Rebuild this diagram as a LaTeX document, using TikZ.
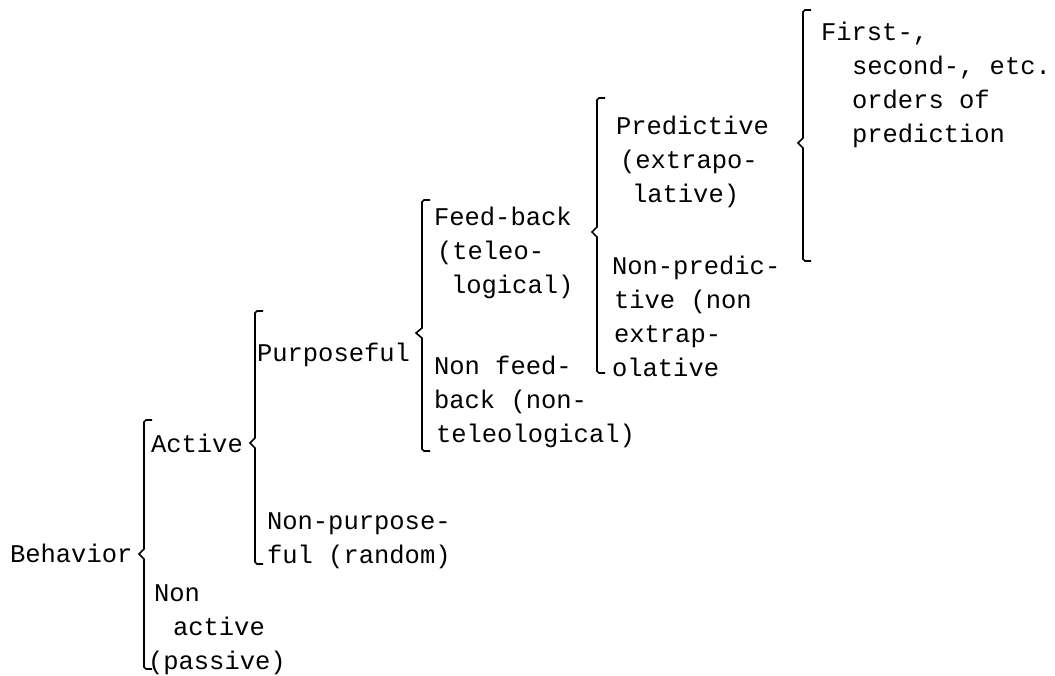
\documentclass[tikz,border=0pt]{standalone}
\usepackage{fontspec}
\newfontfamily\monofam{Liberation Mono}
\newcommand\mybrace[5]{% x, top, bottom, tip y, tip x
  \draw[brk] ({#1+8},#2) -- ({#1+2},#2) -- (#1,{#2+2}) -- (#1,{#4-5}) -- (#5,#4)
    -- (#1,{#4+5}) -- (#1,{#3-2}) -- ({#1+2},#3) -- ({#1+8},#3);}
\begin{document}
\begin{tikzpicture}[x=1pt,y=-1pt,
  lbl/.style={anchor=base west,inner sep=0pt,outer sep=0pt,
    font=\monofam\fontsize{25.5}{34}\selectfont},
  brk/.style={line width=1.6pt,line join=miter}]
\useasboundingbox (0,0) rectangle (1055,675);
% labels
\node[lbl] (behavior) at (10,562) {Behavior};
\node[lbl] (active) at (151,452) {Active};
\node[lbl] (nonactive) at (154,601) {\vtop{\hbox{Non}\hbox{\kern19pt active}\hbox{\kern-6pt (passive)}}};
\node[lbl] (purposeful) at (257,361) {Purposeful};
\node[lbl] (nonpurposeful) at (267,529) {\vtop{\hbox{Non-purpose-}\hbox{ful (random)}}};
\node[lbl] (feedback) at (434,225) {\vtop{\hbox{Feed-back}\hbox{\kern3pt (teleo-}\hbox{\kern17pt logical)}}};
\node[lbl] (nonfeedback) at (434,374) {\vtop{\hbox{Non feed-}\hbox{back (non-}\hbox{\kern2pt teleological)}}};
\node[lbl] (predictive) at (616,134) {\vtop{\hbox{Predictive}\hbox{\kern4pt (extrapo-}\hbox{\kern16pt lative)}}};
\node[lbl] (nonpredictive) at (612,274) {\vtop{\hbox{Non-predic-}\hbox{\kern2pt tive (non}\hbox{\kern2pt extrap-}\hbox{olative}}};
\node[lbl] (orders) at (821,40) {\vtop{\hbox{First-,}\hbox{\kern31pt second-, etc.}\hbox{\kern31pt orders of}\hbox{\kern31pt prediction}}};
% braces
\mybrace{144}{420}{669}{554}{139}
\mybrace{255}{311}{564}{443}{250}
\mybrace{422}{200}{451}{333}{416}
\mybrace{597}{98}{373}{232}{592}
\mybrace{803}{10}{261}{143}{798}
\end{tikzpicture}
\end{document}
